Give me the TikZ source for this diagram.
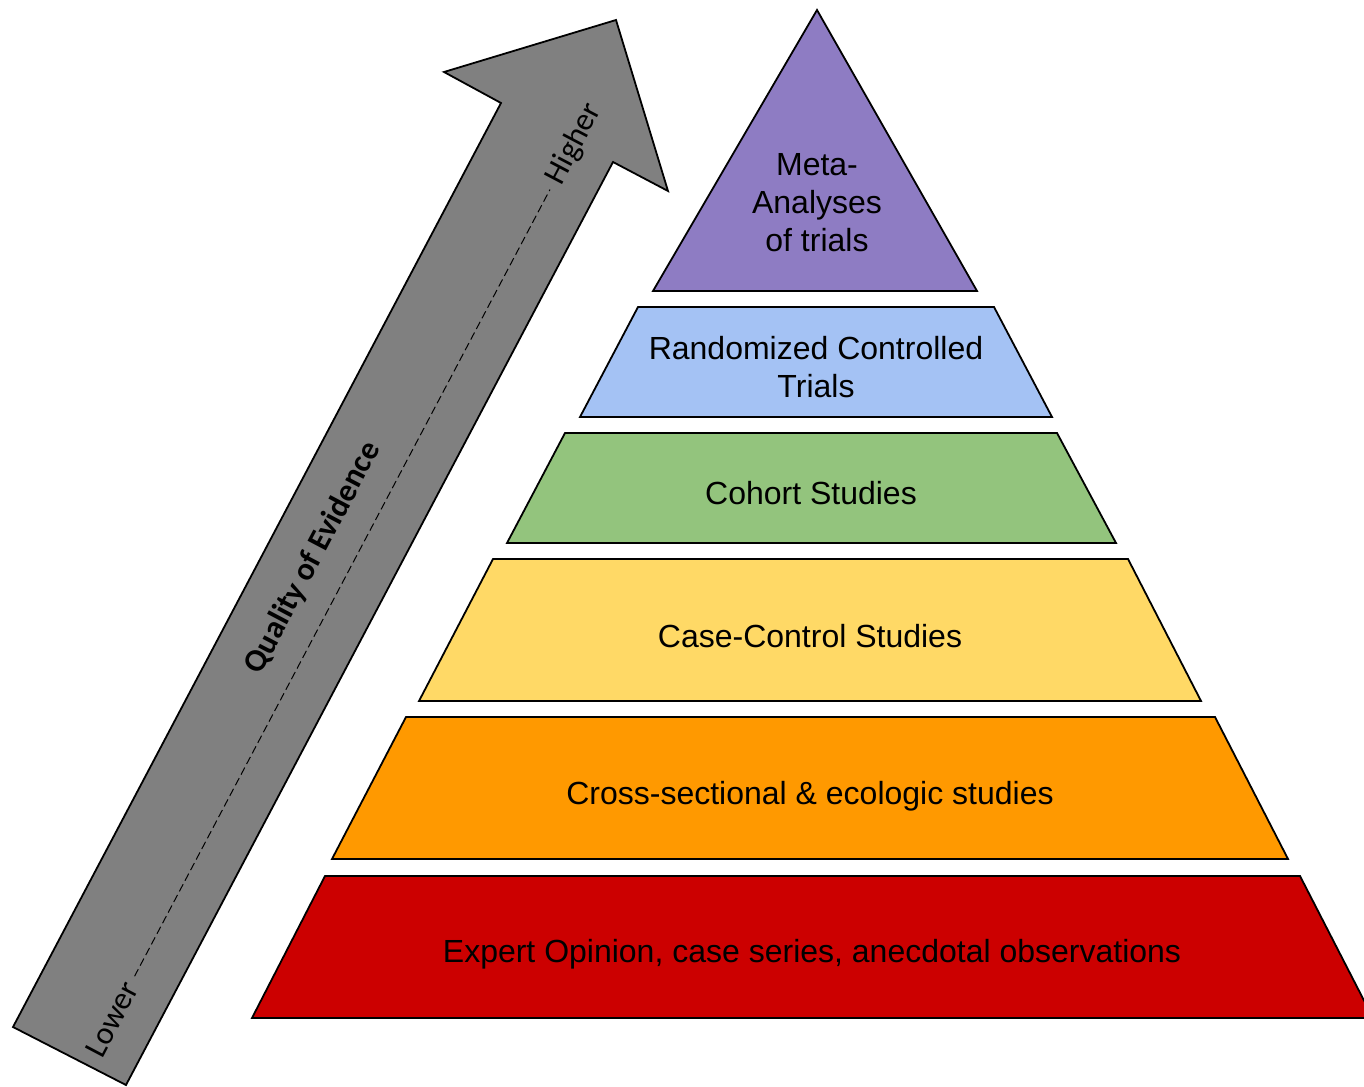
\documentclass[tikz,border=0pt]{standalone}
\usepackage{fontspec}
\setmainfont{Liberation Sans}
\newfontfamily\arrowfont{Carlito}
\definecolor{cpurple}{HTML}{8E7CC3}
\definecolor{cblue}{HTML}{A4C2F4}
\definecolor{cgreen}{HTML}{93C47D}
\definecolor{cyellow}{HTML}{FFD966}
\definecolor{corange}{HTML}{FF9900}
\definecolor{cred}{HTML}{CC0000}
\definecolor{cgray}{HTML}{808080}
\tikzset{
  level/.style={draw=black, line width=0.9pt, line join=miter},
  ptext/.style={font=\fontsize{16}{19}\selectfont, align=center, inner sep=0pt},
  atext/.style={font=\arrowfont\fontsize{16}{19}\selectfont, rotate=62.2, inner sep=0pt},
}
\begin{document}
\begin{tikzpicture}[x=0.5pt, y=-0.5pt]
\useasboundingbox (0,0) rectangle (1364,1086);
\clip (0,0) rectangle (1364,1086);
\fill[white] (0,0) rectangle (1364,1086);
% arrow
\draw[fill=cgray, line width=0.9pt, line join=miter]
  (13,1027) -- (501,103) -- (444,72) -- (616,20) -- (668,191) -- (613,162) -- (126,1085) -- cycle;
\node[atext] (lower) at (112,1019) {Lower};
\node[atext] (higher) at (574,144) {Higher};
\node[atext, font=\arrowfont\bfseries\fontsize{16}{19}\selectfont] (quality) at (313,558) {Quality of Evidence};
\draw[line width=0.5pt, dash pattern=on 4pt off 2pt, shorten <=4pt, shorten >=4pt] (lower.east) -- (higher.west);
% pyramid
\draw[level, fill=cpurple] (817,10) -- (977,291) -- (653,291) -- cycle;
\draw[level, fill=cblue] (638,307) -- (994,307) -- (1052,417) -- (580,417) -- cycle;
\draw[level, fill=cgreen] (565,433) -- (1057,433) -- (1116,543) -- (507,543) -- cycle;
\draw[level, fill=cyellow] (493,559) -- (1128,559) -- (1201,701) -- (419,701) -- cycle;
\draw[level, fill=corange] (406,717) -- (1215,717) -- (1288,859) -- (332,859) -- cycle;
\draw[level, fill=cred] (325,876) -- (1300,876) -- (1373,1018) -- (252,1018) -- cycle;
\node[ptext] (meta) at (817,203) {Meta-\\Analyses\\of trials};
\node[ptext] (rct) at (816,367) {Randomized Controlled\\Trials};
\node[ptext] (cohort) at (811,493) {Cohort Studies};
\node[ptext] (cc) at (810,636) {Case-Control Studies};
\node[ptext] (cross) at (810,796) {Cross-sectional \& ecologic studies};
\node[ptext] (expert) at (812,954) {Expert Opinion, case series, anecdotal observations};
\end{tikzpicture}
\end{document}
